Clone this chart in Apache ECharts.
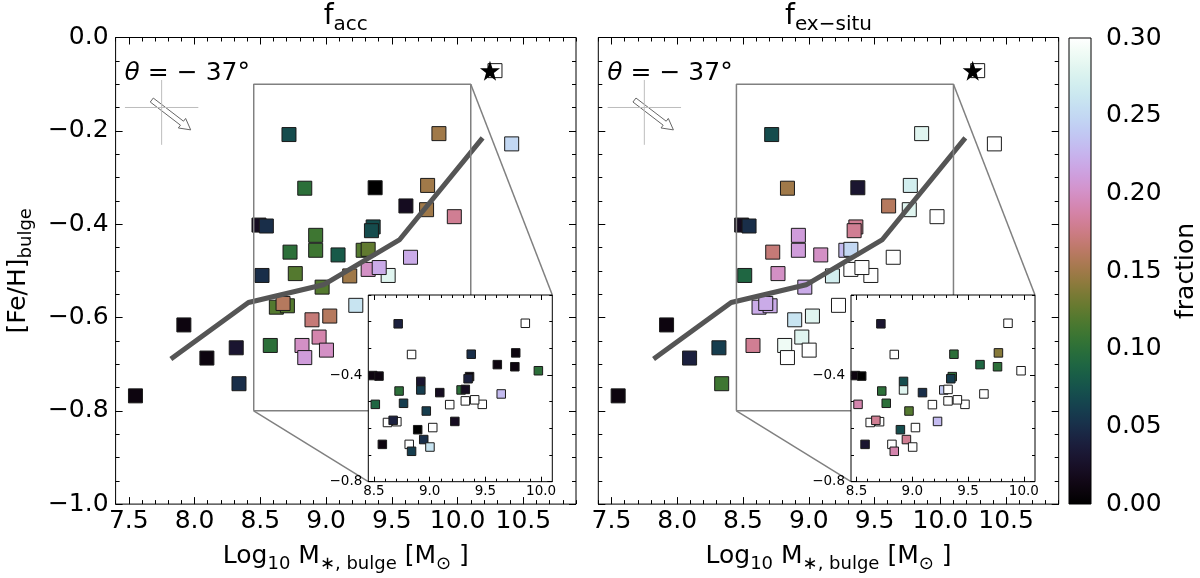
<!DOCTYPE html>
<html>
<head>
<meta charset="utf-8">
<script src="https://cdn.jsdelivr.net/npm/echarts@6/dist/echarts.min.js"></script>
<style>
html,body{margin:0;padding:0;background:#fff}
#main{width:1200px;height:578px}
</style>
</head>
<body>
<div id="main"></div>
<script>
// bulge mass / metallicity of each galaxy (same points in both panels)
var massX = [7.551, 7.919, 8.094, 8.317, 8.338,
             8.718, 9.858, 10.411, 8.838, 9.373,
             9.772, 9.607, 9.764, 9.975, 8.490,
             8.546, 9.358, 9.345, 8.921, 8.921,
             8.726, 9.091, 9.282, 9.320, 9.642,
             8.513, 8.766, 9.320, 9.472, 9.404,
             9.180, 8.970, 8.622, 8.706, 8.673,
             8.893, 9.028, 9.226, 8.576, 8.817,
             8.838, 8.947, 9.003, 10.284];
var fehY = [-0.768, -0.616, -0.687, -0.665, -0.742,
            -0.208, -0.206, -0.228, -0.323, -0.322,
            -0.317, -0.361, -0.369, -0.384, -0.402,
            -0.404, -0.406, -0.414, -0.424, -0.456,
            -0.460, -0.466, -0.456, -0.454, -0.471,
            -0.510, -0.506, -0.497, -0.510, -0.493,
            -0.511, -0.535, -0.578, -0.575, -0.570,
            -0.605, -0.597, -0.574, -0.660, -0.660,
            -0.686, -0.642, -0.670, -0.071];
// colour values, main panels
var fAccMain = [0.01, 0.01, 0.01, 0.03, 0.05,
                0.07, 0.15, 0.25, 0.10, 0.00,
                0.15, 0.02, 0.15, 0.18, 0.02,
                0.05, 0.07, 0.07, 0.11, 0.11,
                0.10, 0.08, 0.12, 0.125, 0.22,
                0.05, 0.12, 0.20, 0.28, 0.22,
                0.15, 0.12, 0.12, 0.12, 0.16,
                0.17, 0.16, 0.26, 0.10, 0.20,
                0.21, 0.19, 0.20, 0.30];
var fExMain = [0.01, 0.01, 0.04, 0.06, 0.11,
               0.07, 0.28, 0.30, 0.15, 0.03,
               0.27, 0.16, 0.28, 0.30, 0.02,
               0.05, 0.18, 0.18, 0.21, 0.21,
               0.17, 0.20, 0.23, 0.25, 0.30,
               0.09, 0.20, 0.30, 0.30, 0.30,
               0.27, 0.22, 0.22, 0.22, 0.22,
               0.26, 0.28, 0.30, 0.18, 0.29,
               0.30, 0.28, 0.30, 0.30];
// colour values, zoomed insets (null = outside the inset)
var fAccInset = [null, null, null, null, null,
                 0.04, 0.30, null, 0.30, 0.05,
                 0.01, 0.01, 0.01, 0.10, 0.01,
                 0.01, 0.01, 0.04, 0.03, 0.06,
                 0.10, 0.02, 0.10, 0.02, 0.23,
                 0.09, 0.06, 0.30, 0.30, 0.30,
                 0.30, 0.06, 0.30, 0.30, 0.04,
                 0.00, 0.30, 0.02, 0.01, 0.30,
                 0.06, 0.05, 0.26, null];
var fExInset = [null, null, null, null, null,
                0.03, 0.30, null, 0.30, 0.10,
                0.14, 0.09, 0.10, 0.30, 0.01,
                0.00, 0.10, 0.06, 0.07, 0.28,
                0.10, 0.05, 0.24, 0.30, 0.30,
                0.19, 0.10, 0.30, 0.30, 0.30,
                0.30, 0.12, 0.30, 0.30, 0.18,
                0.07, 0.30, 0.23, 0.03, 0.30,
                0.19, 0.18, 0.30, null];
// running median
var trendX = [7.82, 8.41, 8.98, 9.56, 10.19];
var trendY = [-0.689, -0.568, -0.530, -0.433, -0.215];
// reference object (star)
var starPt = [10.246, -0.071];
// orientation marker
var crossH = [[7.471, -0.150], [8.029, -0.150]];
var crossV = [[7.750, -0.091], [7.750, -0.230]];
var arrowFrom = [7.675, -0.134];
var arrowTo = [7.971, -0.198];

var mainXRange = [7.4, 10.9];
var mainYRange = [-1.0, 0.0];
var insetXRange = [8.45, 10.1];
var insetYRange = [-0.8, -0.1];
var mainXTicks = [7.5, 8.0, 8.5, 9.0, 9.5, 10.0, 10.5];
var mainYTicks = [-1.0, -0.8, -0.6, -0.4, -0.2, 0.0];
var insetXTicks = [8.5, 9.0, 9.5, 10.0];
var insetYTicks = [-0.8, -0.4];
var cbarRange = [0, 0.3];

var FONT = 'DejaVu Sans';

function steps(a, b, s) {
  var out = [];
  for (var i = 0; a + i * s <= b + 1e-9; i++) out.push(+(a + i * s).toFixed(3));
  return out;
}
function minus(v, d) { return v.toFixed(d).replace('-', '\u2212'); }

// matplotlib cubehelix colormap
function cubehelix(t) {
  var a = t * (1 - t) / 2, phi = 2 * Math.PI * (0.5 / 3 - 1.5 * t);
  var c = Math.cos(phi), s = Math.sin(phi);
  var r = t + a * (-0.14861 * c + 1.78277 * s);
  var g = t + a * (-0.29227 * c - 0.90649 * s);
  var b = t + a * (1.97294 * c);
  function q(v) { return Math.round(Math.max(0, Math.min(1, v)) * 255); }
  return 'rgb(' + q(r) + ',' + q(g) + ',' + q(b) + ')';
}
var cmap = [];
for (var i = 0; i <= 40; i++) cmap.push(cubehelix(i / 40));

var grids = [], xAxes = [], yAxes = [], series = [], titles = [];
var scatterIdx = [];

function tickAxis(kind, grid, pos, range, ticks, len, label, z, extra) {
  var ax = {
    type: 'value', gridIndex: grid, position: pos, min: range[0], max: range[1], z: z,
    axisLine: {show: false, onZero: false},
    splitLine: {show: false},
    axisTick: {show: true, inside: true, length: len, customValues: ticks,
               lineStyle: {color: '#000', width: 1}},
    axisLabel: label ? Object.assign({customValues: ticks, color: '#000', fontFamily: FONT}, label)
                     : {show: false}
  };
  if (extra) Object.assign(ax, extra);
  var list = kind === 'x' ? xAxes : yAxes;
  list.push(ax);
  return list.length - 1;
}

var subRich = {
  n: {fontSize: 25, fontFamily: FONT, color: '#000', lineHeight: 30},
  s: {fontSize: 18, fontFamily: FONT, color: '#000', lineHeight: 18, padding: [16, 0, 0, 0]}
};

var panels = [
  {left: 115.6, title: '{n|f}{s|acc}', main: fAccMain, inset: fAccInset},
  {left: 598.3, title: '{n|f}{s|ex\u2212situ}', main: fExMain, inset: fExInset}
];
var W = 460.4, H = 467.5, TOP = 37.5;

panels.forEach(function (p, k) {
  var gm = grids.length;
  grids.push({left: p.left, top: TOP, width: W, height: H, show: true,
              borderColor: '#000', borderWidth: 1, backgroundColor: 'transparent'});
  var gi = grids.length;
  grids.push({left: p.left + 252.7, top: 295, width: 184, height: 186.7, show: true,
              borderColor: '#000', borderWidth: 1, backgroundColor: '#fff', z: 5});

  var xLab = {fontSize: 25, margin: 5, formatter: function (v) { return v.toFixed(1); }};
  p.mx = tickAxis('x', gm, 'bottom', mainXRange, mainXTicks, 7, xLab, 0, {
    name: '{n|Log}{s|10}{n| M}{s|\u2217, bulge}{n| [M}{s|\u2299}{n| ]}',
    nameLocation: 'middle', nameGap: 36, nameTextStyle: {rich: subRich}
  });
  tickAxis('x', gm, 'bottom', mainXRange, steps(7.4, 10.9, 0.1), 4, null, 0);
  tickAxis('x', gm, 'top', mainXRange, mainXTicks, 7, null, 0);
  tickAxis('x', gm, 'top', mainXRange, steps(7.4, 10.9, 0.1), 4, null, 0);

  var yLab = k === 0 ? {fontSize: 25, margin: 7, formatter: function (v) { return minus(v, 1); }} : null;
  var yName = k === 0 ? {name: '{n|[Fe/H]}{s|bulge}', nameLocation: 'middle', nameRotate: 90,
                         nameGap: 82, nameTextStyle: {rich: subRich}} : null;
  p.my = tickAxis('y', gm, 'left', mainYRange, mainYTicks, 7, yLab, 0, yName);
  tickAxis('y', gm, 'left', mainYRange, steps(-1, 0, 0.05), 4, null, 0);
  tickAxis('y', gm, 'right', mainYRange, mainYTicks, 7, null, 0);
  tickAxis('y', gm, 'right', mainYRange, steps(-1, 0, 0.05), 4, null, 0);

  var ixLab = {fontSize: 13.5, margin: 3, formatter: function (v) { return v.toFixed(1); }};
  p.ix = tickAxis('x', gi, 'bottom', insetXRange, insetXTicks, 5, ixLab, 6);
  tickAxis('x', gi, 'bottom', insetXRange, steps(8.5, 10.0, 0.1), 3, null, 6);
  tickAxis('x', gi, 'top', insetXRange, insetXTicks, 5, null, 6);
  tickAxis('x', gi, 'top', insetXRange, steps(8.5, 10.0, 0.1), 3, null, 6);
  var iyLab = {fontSize: 13.5, margin: 6, formatter: function (v) { return minus(v, 1); }};
  p.iy = tickAxis('y', gi, 'left', insetYRange, insetYTicks, 5, iyLab, 6);
  tickAxis('y', gi, 'left', insetYRange, steps(-0.8, -0.1, 0.1), 3, null, 6);
  tickAxis('y', gi, 'right', insetYRange, insetYTicks, 5, null, 6);
  tickAxis('y', gi, 'right', insetYRange, steps(-0.8, -0.1, 0.1), 3, null, 6);

  var mainData = massX.map(function (x, i) { return [x, fehY[i], p.main[i]]; });
  var insetData = [];
  massX.forEach(function (x, i) {
    if (p.inset[i] !== null) insetData.push([x, fehY[i], p.inset[i]]);
  });

  scatterIdx.push(series.length);
  series.push({type: 'scatter', xAxisIndex: p.mx, yAxisIndex: p.my, symbol: 'rect',
               symbolSize: 14, data: mainData, z: 2,
               itemStyle: {borderColor: '#1a1a1a', borderWidth: 1, opacity: 1}});
  series.push({type: 'line', xAxisIndex: p.mx, yAxisIndex: p.my, symbol: 'none', z: 3,
               data: trendX.map(function (x, i) { return [x, trendY[i]]; }),
               lineStyle: {color: '#555', width: 5}});
  series.push({type: 'line', xAxisIndex: p.mx, yAxisIndex: p.my, symbol: 'none', z: 3,
               data: [[insetXRange[0], insetYRange[0]], [insetXRange[1], insetYRange[0]],
                      [insetXRange[1], insetYRange[1]], [insetXRange[0], insetYRange[1]],
                      [insetXRange[0], insetYRange[0]]],
               lineStyle: {color: '#808080', width: 1.5}});
  [crossH, crossV].forEach(function (seg) {
    series.push({type: 'line', xAxisIndex: p.mx, yAxisIndex: p.my, symbol: 'none', z: 3,
                 data: seg, lineStyle: {color: '#bdbdbd', width: 1}});
  });
  series.push({type: 'custom', xAxisIndex: p.mx, yAxisIndex: p.my, z: 3,
               data: [[arrowFrom[0], arrowFrom[1], arrowTo[0], arrowTo[1]]],
               encode: {x: [0, 2], y: [1, 3]},
               renderItem: function (params, api) {
                 var a = api.coord([api.value(0), api.value(1)]);
                 var b = api.coord([api.value(2), api.value(3)]);
                 var dx = b[0] - a[0], dy = b[1] - a[1], L = Math.sqrt(dx * dx + dy * dy);
                 var ux = dx / L, uy = dy / L, nx = -uy, ny = ux;
                 var w = 2.5, hw = 6, hl = 11;
                 var c = [b[0] - ux * hl, b[1] - uy * hl];
                 var pts = [[a[0] + nx * w, a[1] + ny * w], [c[0] + nx * w, c[1] + ny * w],
                            [c[0] + nx * hw, c[1] + ny * hw], b,
                            [c[0] - nx * hw, c[1] - ny * hw], [c[0] - nx * w, c[1] - ny * w],
                            [a[0] - nx * w, a[1] - ny * w]];
                 return {type: 'polygon', shape: {points: pts},
                         style: {fill: '#fff', stroke: '#666', lineWidth: 1}};
               }});
  series.push({type: 'scatter', xAxisIndex: p.mx, yAxisIndex: p.my, z: 4, data: [starPt],
               symbol: 'path://M50,0 L61.8,35.1 L98.1,35.1 L68.7,56.8 L79.4,91 L50,70 L20.6,91 L31.3,56.8 L1.9,35.1 L38.2,35.1 Z',
               symbolSize: 20, itemStyle: {color: '#000', opacity: 1}});
  scatterIdx.push(series.length);
  series.push({type: 'scatter', xAxisIndex: p.ix, yAxisIndex: p.iy, symbol: 'rect',
               symbolSize: 8.5, data: insetData, z: 7,
               itemStyle: {borderColor: '#1a1a1a', borderWidth: 1, opacity: 1}});

  titles.push({text: p.title, left: p.left + W / 2, top: 1, textAlign: 'center', padding: 0,
               textStyle: {fontWeight: 'normal', rich: {
                 n: {fontSize: 28, fontFamily: FONT, fontWeight: 'normal', color: '#000', lineHeight: 32},
                 s: {fontSize: 20, fontFamily: FONT, fontWeight: 'normal', color: '#000', lineHeight: 20, padding: [15, 0, 0, 0]}
               }}});
  titles.push({text: '{i|\u03b8}{n| = \u2212 37\u00b0}', left: p.left + 9, top: 61, padding: 0,
               textStyle: {fontWeight: 'normal', rich: {
                 i: {fontSize: 25, fontFamily: FONT, fontStyle: 'italic', fontWeight: 'normal', color: '#000'},
                 n: {fontSize: 25, fontFamily: FONT, fontWeight: 'normal', color: '#000'}
               }}});
});

// colour bar
var cg = grids.length;
grids.push({left: 1069, top: 38, width: 24, height: 466, show: true,
            borderColor: '#000', borderWidth: 1, backgroundColor: 'transparent', z: 3});
xAxes.push({type: 'category', gridIndex: cg, data: ['fraction'], show: false});
var cbX = xAxes.length - 1;
yAxes.push({type: 'value', gridIndex: cg, position: 'right', min: cbarRange[0], max: cbarRange[1],
            interval: 0.05, axisLine: {show: false, onZero: false}, splitLine: {show: false},
            axisTick: {length: 6, lineStyle: {color: '#000'}},
            axisLabel: {fontSize: 25, margin: 15, color: '#000', fontFamily: FONT,
                        formatter: function (v) { return v.toFixed(2); }},
            name: 'fraction', nameLocation: 'middle', nameRotate: 90, nameGap: 83,
            nameTextStyle: {fontSize: 25, fontFamily: FONT, color: '#000'}});
var cbY = yAxes.length - 1;
var stops = cmap.map(function (c, i) { return {offset: 1 - i / (cmap.length - 1), color: c}; }).reverse();
series.push({type: 'bar', xAxisIndex: cbX, yAxisIndex: cbY, data: [cbarRange[1]], barWidth: '100%',
             silent: true, itemStyle: {color: new echarts.graphic.LinearGradient(0, 0, 0, 1, stops)}});

var option = {
  animation: false,
  backgroundColor: '#fff',
  textStyle: {fontFamily: FONT},
  title: titles,
  grid: grids,
  xAxis: xAxes,
  yAxis: yAxes,
  visualMap: {type: 'continuous', show: false, min: cbarRange[0], max: cbarRange[1],
              dimension: 2, seriesIndex: scatterIdx, inRange: {color: cmap}},
  series: series
};

var chart = echarts.init(document.getElementById('main'));
chart.setOption(option);

// connector lines from the zoom box to the inset corners
var extra = [];
panels.forEach(function (p) {
  var corners = [[insetXRange[0], insetYRange[0]], [insetXRange[1], insetYRange[1]]];
  corners.forEach(function (c) {
    var px = chart.convertToPixel({xAxisIndex: p.ix, yAxisIndex: p.iy}, c);
    var d = chart.convertFromPixel({xAxisIndex: p.mx, yAxisIndex: p.my}, px);
    extra.push({type: 'line', xAxisIndex: p.mx, yAxisIndex: p.my, symbol: 'none', z: 3,
                data: [c, d], lineStyle: {color: '#808080', width: 1.5}});
  });
});
chart.setOption({series: series.concat(extra)});
</script>
</body>
</html>
